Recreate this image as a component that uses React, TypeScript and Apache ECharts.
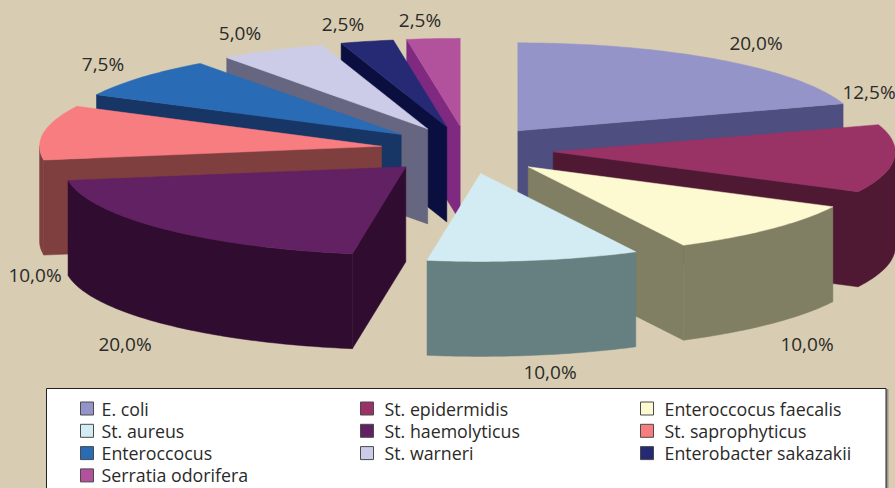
import React, { useEffect, useRef } from "react";
import * as echarts from "echarts";

const categories = ["E. coli", "St. epidermidis", "Enteroccocus faecalis", "St. aureus", "St. haemolyticus", "St. saprophyticus", "Enteroccocus", "St. warneri", "Enterobacter sakazakii", "Serratia odorifera"];
const shares = [20, 12.5, 10, 10, 20, 10, 7.5, 5, 2.5, 2.5];
const topColors = ["#9494C8", "#993366", "#FDF9D1", "#D3ECF4", "#622163", "#F77D80", "#2A6BB5", "#CCCCE8", "#262A75", "#B3529C"];
const sideColors = ["#4E4E80", "#4F1933", "#807F63", "#667F80", "#300D30", "#7F3F3F", "#173565", "#666680", "#0A0F40", "#7F2A80"];
const labelAnchors: [number, number][] = [[756, 43], [869, 92], [807, 344], [550, 372], [125, 344], [35, 275], [103, 64], [240, 33], [343, 24], [420, 20]];
const drawOrder = [0, 1, 2, 9, 8, 7, 6, 5, 4, 3];

const FONT = "'Open Sans', 'Noto Sans', sans-serif";
const CX = 467, CY = 150, RX = 342, RY = 88, EX = 86.5, EY = 23.7, DEPTH = 95;
const rad = (d: number) => (d * Math.PI) / 180;

const starts: number[] = [];
shares.reduce((acc, v, i) => {
  starts[i] = acc;
  return acc + (v / 100) * 360;
}, 0);

function sliceGroup(i: number) {
  const a0 = starts[i];
  const a1 = a0 + (shares[i] / 100) * 360;
  const mid = (a0 + a1) / 2;
  const ax = CX + EX * Math.sin(rad(mid));
  const ay = CY - EY * Math.cos(rad(mid));
  const rim = (a: number, dy = 0): number[] => [ax + RX * Math.sin(rad(a)), ay - RY * Math.cos(rad(a)) + dy];
  const arc = (from: number, to: number, dy = 0) => {
    const n = Math.max(2, Math.ceil(Math.abs(to - from)));
    const out: number[][] = [];
    for (let k = 0; k <= n; k++) out.push(rim(from + ((to - from) * k) / n, dy));
    return out;
  };
  const side = sideColors[i];
  const top = topColors[i];
  const poly = (points: number[][], fill: string) => ({
    type: "polygon",
    shape: { points },
    style: { fill, stroke: fill, lineWidth: 0.5 },
  });
  const children: any[] = [];
  const cut = (a: number) =>
    poly([[ax, ay], rim(a), rim(a, DEPTH), [ax, ay + DEPTH]], side);
  if (Math.sin(rad(a0)) < -1e-6) children.push(cut(a0));
  if (Math.sin(rad(a1)) > 1e-6) children.push(cut(a1));
  const w0 = Math.max(a0, 90);
  const w1 = Math.min(a1, 270);
  if (w1 > w0) children.push(poly([...arc(w0, w1), ...arc(w1, w0, DEPTH)], side));
  children.push(poly([[ax, ay], ...arc(a0, a1)], top));
  children.push({
    type: "text",
    x: labelAnchors[i][0],
    y: labelAnchors[i][1],
    style: {
      text: shares[i].toFixed(1).replace(".", ",") + "%",
      fill: "#2B2A29",
      font: `19px ${FONT}`,
      textAlign: "center",
      textVerticalAlign: "middle",
    },
  });
  return { type: "group", children };
}

export default function App() {
  const ref = useRef<HTMLDivElement>(null);
  useEffect(() => {
    const chart = echarts.init(ref.current!, undefined, { renderer: "svg" });
    const series = drawOrder.map((i, z) => ({
      type: "custom",
      name: categories[i],
      coordinateSystem: "none",
      silent: true,
      z: 2 + z,
      itemStyle: { color: topColors[i] },
      data: [shares[i]],
      renderItem: () => sliceGroup(i),
    }));
    const legendLefts = [80, 360, 640];
    const legendTextGaps = [3, 6, 6];
    const legend = legendLefts.map((left, c) => ({
      orient: "vertical",
      left,
      top: 399,
      padding: 0,
      itemWidth: 13,
      itemHeight: 13,
      itemGap: 3.3,
      icon: "rect",
      selectedMode: false,
      itemStyle: { borderColor: "#4A4A4A", borderWidth: 1 },
      textStyle: { fontFamily: FONT, fontSize: 17.8, color: "#2B2A29", lineHeight: 19, padding: [0, 0, 0, legendTextGaps[c]] },
      data: categories.filter((_, i) => i % 3 === c),
    }));
    chart.setOption({
      animation: false,
      backgroundColor: "#D8CDB2",
      graphic: [
        { type: "rect", z: 0, shape: { x: 886, y: 389, width: 2.5, height: 100 }, style: { fill: "#9A9488" } },
        { type: "rect", z: 1, shape: { x: 46.5, y: 388.5, width: 839.5, height: 130 }, style: { fill: "#FFFFFF", stroke: "#222222", lineWidth: 1 } },
      ],
      legend,
      series,
    });
    return () => chart.dispose();
  }, []);
  return <div ref={ref} style={{ position: "fixed", left: 0, top: 0, width: 895, height: 488 }} />;
}
